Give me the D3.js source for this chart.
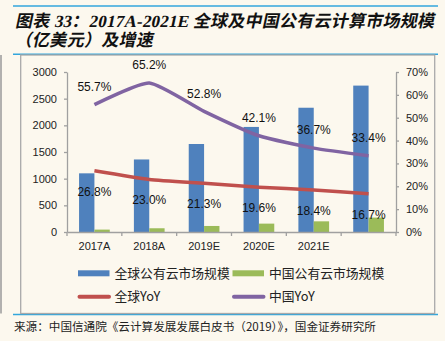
<!DOCTYPE html>
<html>
<head>
<meta charset="utf-8">
<script src="https://cdn.jsdelivr.net/npm/d3@7.9.0/dist/d3.min.js"></script>
<style>
  html, body { margin: 0; padding: 0; background: #fcf8ee; }
  svg { display: block; }
</style>
</head>
<body>
<svg id="chart" width="445" height="341"></svg>
<script>
// data
const categories = ['2017A', '2018A', '2019E', '2020E', '2021E', ''];
const globalSize = [1100, 1360, 1650, 1970, 2330, 2745];
const chinaSize = [45, 70, 113, 157, 200, 270];
const globalYoY = [26.8, 23.0, 21.3, 19.6, 18.4, 16.7];
const chinaYoY = [55.7, 65.2, 52.8, 42.1, 36.7, 33.4];
const leftTicks = [0, 500, 1000, 1500, 2000, 2500, 3000];
const rightTicks = [0, 10, 20, 30, 40, 50, 60, 70];

const colors = { global: '#4f81bd', china: '#9bbb59', gYoY: '#c0504d', cYoY: '#8064a2' };
const latin = '"Liberation Sans", Arial, sans-serif';
const cjk = '"Noto Sans CJK SC", sans-serif';

const svg = d3.select('#chart');

// frame: blue rules, grey box
[6, 54.3, 314.5].forEach(y => {
  svg.append('line').attr('x1', 13).attr('x2', 438).attr('y1', y).attr('y2', y)
    .attr('stroke', '#33a6dc').attr('stroke-width', 1.5);
});
svg.append('rect').attr('x', 20.7).attr('y', 55).attr('width', 414).attr('height', 258.5)
  .attr('fill', 'none').attr('stroke', '#a9a9a9').attr('stroke-width', 1.3);
svg.append('line').attr('x1', 1).attr('x2', 1).attr('y1', 55).attr('y2', 313.5)
  .attr('stroke', '#9a9a9a').attr('stroke-width', 1.5);

// title (slanted by hand, the CJK font has no italic)
const title = svg.append('g').attr('transform', 'translate(0,36) skewX(-12)')
  .append('text')
  .attr('font-family', '"Liberation Serif", "Noto Sans CJK SC", serif')
  .attr('font-weight', 'bold')
  .attr('font-size', 17).attr('fill', '#111');
title.append('tspan').attr('x', 13).attr('y', -9.2)
  .attr('textLength', 419).attr('lengthAdjust', 'spacing')
  .text('图表 33：2017A-2021E 全球及中国公有云计算市场规模');
title.append('tspan').attr('x', 17).attr('y', 10.3)
  .attr('textLength', 138).attr('lengthAdjust', 'spacing')
  .text('（亿美元）及增速');

// scales
const x = d3.scaleBand().domain(d3.range(categories.length)).range([67, 396]).padding(0);
const sub = d3.scaleBand().domain(['global', 'china'])
  .range([x.bandwidth() * 0.22, x.bandwidth() * 0.78]).padding(0);
const yL = d3.scaleLinear().domain([0, 3000]).range([232, 72]);
const yR = d3.scaleLinear().domain([0, 70]).range([232, 72]);

const axisColor = '#a0a0a0';
const styleAxis = g => {
  g.select('.domain').attr('stroke', axisColor).attr('stroke-width', 1.3);
  g.selectAll('.tick line').attr('stroke', axisColor).attr('stroke-width', 1.3);
  g.selectAll('text').attr('font-family', latin).attr('font-size', 11).attr('fill', '#222');
};

svg.append('g').attr('transform', 'translate(67,0)')
  .call(d3.axisLeft(yL).tickValues(leftTicks).tickSize(3).tickPadding(7).tickSizeOuter(0)
    .tickFormat(d => String(d)))
  .call(styleAxis);

svg.append('g').attr('transform', 'translate(396,0)')
  .call(d3.axisRight(yR).tickValues(rightTicks).tickSize(3).tickPadding(7).tickSizeOuter(0)
    .tickFormat(d => d + '%'))
  .call(styleAxis);

// bars
const barGroups = svg.append('g').selectAll('g')
  .data(categories.map((c, i) => i))
  .join('g')
  .attr('transform', i => `translate(${x(i)},0)`);

barGroups.append('rect')
  .attr('x', sub('global')).attr('width', sub.bandwidth())
  .attr('y', i => yL(globalSize[i])).attr('height', i => yL(0) - yL(globalSize[i]))
  .attr('fill', colors.global);
barGroups.append('rect')
  .attr('x', sub('china')).attr('width', sub.bandwidth())
  .attr('y', i => yL(chinaSize[i])).attr('height', i => yL(0) - yL(chinaSize[i]))
  .attr('fill', colors.china);

// x axis with ticks at category boundaries
const xAxis = svg.append('g').attr('transform', 'translate(0,232)')
  .call(d3.axisBottom(x).tickSize(0).tickPadding(10).tickFormat(i => categories[i]))
  .call(styleAxis);
xAxis.selectAll('.boundary')
  .data(d3.range(categories.length + 1))
  .join('line')
  .attr('x1', i => 67 + i * x.bandwidth()).attr('x2', i => 67 + i * x.bandwidth())
  .attr('y1', 0).attr('y2', 4)
  .attr('stroke', axisColor).attr('stroke-width', 1.3);

// lines
const cx = i => x(i) + x.bandwidth() / 2;
const line = d3.line().x((d, i) => cx(i)).y(d => yR(d)).curve(d3.curveCardinal.tension(0.45));

svg.append('path').datum(globalYoY).attr('d', line)
  .attr('fill', 'none').attr('stroke', colors.gYoY).attr('stroke-width', 3.5);
svg.append('path').datum(chinaYoY).attr('d', line)
  .attr('fill', 'none').attr('stroke', colors.cYoY).attr('stroke-width', 3.5);

// data labels
const labelFmt = d => d.toFixed(1) + '%';
svg.append('g').selectAll('text').data(chinaYoY).join('text')
  .attr('x', (d, i) => cx(i)).attr('y', d => yR(d) - 18).attr('dy', '0.36em')
  .attr('text-anchor', 'middle').attr('font-family', latin).attr('font-size', 12).attr('fill', '#111')
  .text(labelFmt);
svg.append('g').selectAll('text').data(globalYoY).join('text')
  .attr('x', (d, i) => cx(i)).attr('y', d => yR(d) + 20.5).attr('dy', '0.36em')
  .attr('text-anchor', 'middle').attr('font-family', latin).attr('font-size', 12).attr('fill', '#111')
  .text(labelFmt);

// legend
const legend = svg.append('g').attr('font-family', cjk).attr('font-size', 12.8).attr('fill', '#222');
const legendItems = [
  { label: '全球公有云市场规模', color: colors.global, type: 'bar', x: 78, y: 273.3 },
  { label: '中国公有云市场规模', color: colors.china, type: 'bar', x: 232.5, y: 273.3 },
  { label: '全球YoY', color: colors.gYoY, type: 'line', x: 78, y: 296.7 },
  { label: '中国YoY', color: colors.cYoY, type: 'line', x: 232.5, y: 296.7 }
];
legendItems.forEach(d => {
  if (d.type === 'bar') {
    legend.append('rect').attr('x', d.x).attr('y', d.y - 3).attr('width', 31.5).attr('height', 6)
      .attr('fill', d.color);
  } else {
    legend.append('line').attr('x1', d.x + 1.5).attr('x2', d.x + 31).attr('y1', d.y).attr('y2', d.y)
      .attr('stroke', d.color).attr('stroke-width', 4).attr('stroke-linecap', 'round');
  }
  legend.append('text').attr('x', d.x + 36.5).attr('y', d.y).attr('dy', '0.36em').text(d.label);
});

// source
svg.append('text').attr('x', 14).attr('y', 326.8).attr('dy', '0.36em')
  .attr('font-family', cjk).attr('font-size', 11.6).attr('fill', '#222')
  .text('来源：中国信通院《云计算发展发展白皮书（2019）》，国金证券研究所');
</script>
</body>
</html>
